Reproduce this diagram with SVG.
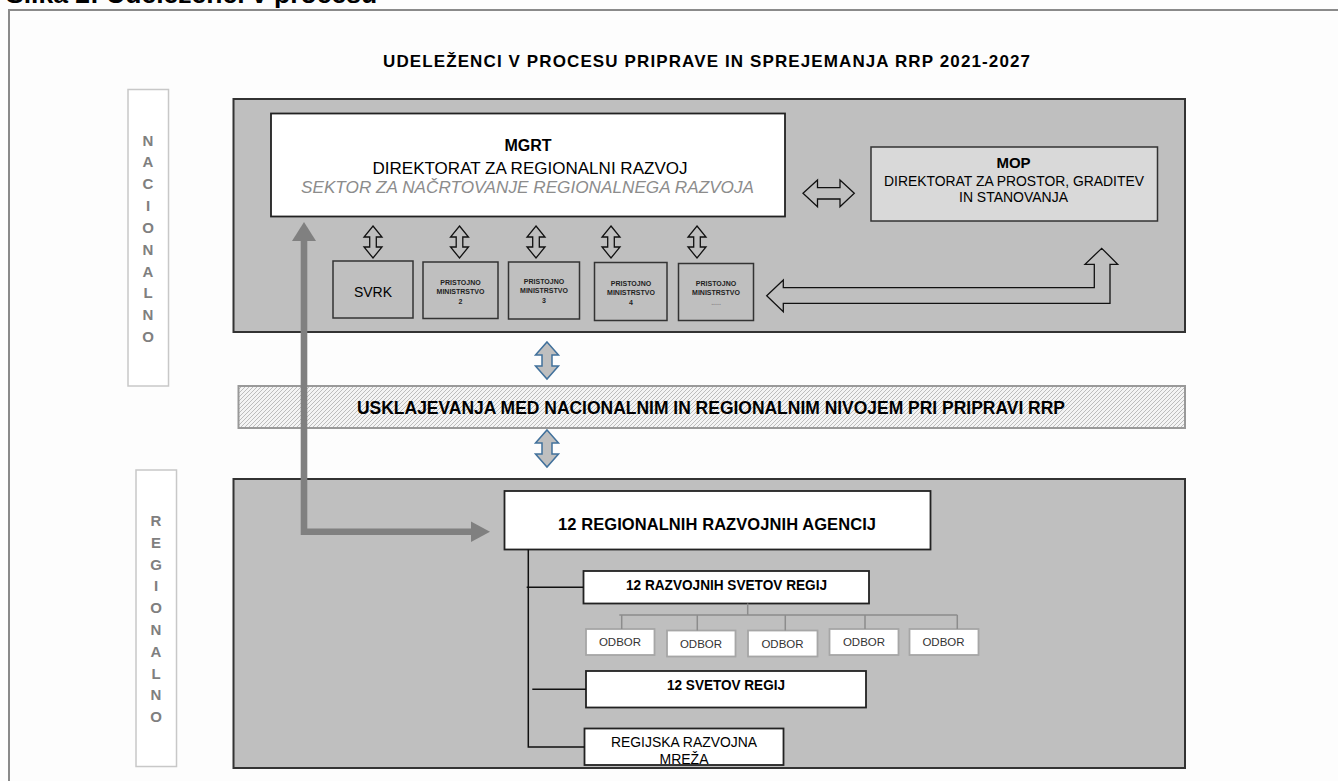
<svg xmlns="http://www.w3.org/2000/svg" width="1338" height="781" viewBox="0 0 1338 781">
<defs>
<style>
text{font-family:"Liberation Sans",Arial,sans-serif;fill:#000}
.b{font-weight:bold}
.c{text-anchor:middle}
.lbl{fill:#7f7f7f;font-weight:bold;font-size:15px;text-anchor:middle}
.lblbox{fill:#ffffff;stroke:#c8c8c8;stroke-width:1.5}
.panel{fill:#bfbfbf;stroke:#333;stroke-width:2}
.wbox{fill:#fff;stroke:#222;stroke-width:1.8}
.gbox{fill:#bfbfbf;stroke:#333;stroke-width:1.5}
.obox{fill:#fff;stroke:#a6a6a6;stroke-width:1.8}
.hol{fill:#bfbfbf;stroke:#111;stroke-width:1.3;stroke-linejoin:miter}
.blue{fill:#bfbfbf;stroke:#41719c;stroke-width:1.5}
.tree{stroke:#111;stroke-width:1.5;fill:none}
.otree{stroke:#8c8c8c;stroke-width:1.5;fill:none}
.small{font-size:7px;font-weight:bold;text-anchor:middle;fill:#222}
</style>
<pattern id="hatch" width="4" height="4" patternUnits="userSpaceOnUse">
<rect width="4" height="4" fill="#f4f4f4"/>
<path d="M-1,5 L5,-1 M-1,1 L1,-1 M3,5 L5,3" stroke="#bdbdbd" stroke-width="1"/>
</pattern>
<path id="vdbl" d="M0,-16 L9,-5 L3.3,-5 L3.3,5 L9,5 L0,16 L-9,5 L-3.3,5 L-3.3,-5 L-9,-5 Z"/>
</defs>

<rect x="0" y="0" width="1338" height="781" fill="#fdfdfd"/>
<rect x="9" y="10" width="1340" height="790" fill="none" stroke="#8a8a8a" stroke-width="2"/>
<text x="6" y="3.3" class="b" font-size="26.5">Slika 2: Udeleženci v procesu</text>

<text x="706.5" y="66.5" class="b c" font-size="17" textLength="647" lengthAdjust="spacing">UDELEŽENCI V PROCESU PRIPRAVE IN SPREJEMANJA RRP 2021-2027</text>

<g id="label-nacionalno">
<rect class="lblbox" x="128" y="89.5" width="40.5" height="296.5"/>
<text class="lbl"><tspan x="148" y="145.5">N</tspan><tspan x="148" y="167.3">A</tspan><tspan x="148" y="189.2">C</tspan><tspan x="148" y="211">I</tspan><tspan x="148" y="232.9">O</tspan><tspan x="148" y="254.7">N</tspan><tspan x="148" y="276.6">A</tspan><tspan x="148" y="298.4">L</tspan><tspan x="148" y="320.3">N</tspan><tspan x="148" y="342.1">O</tspan></text>
</g>

<g id="label-regionalno">
<rect class="lblbox" x="136" y="470" width="40.5" height="296.5"/>
<text class="lbl"><tspan x="156" y="526">R</tspan><tspan x="156" y="547.8">E</tspan><tspan x="156" y="569.6">G</tspan><tspan x="156" y="591.4">I</tspan><tspan x="156" y="613.2">O</tspan><tspan x="156" y="635">N</tspan><tspan x="156" y="656.8">A</tspan><tspan x="156" y="678.6">L</tspan><tspan x="156" y="700.4">N</tspan><tspan x="156" y="722.2">O</tspan></text>
</g>

<g id="panel-nacionalno">
<rect class="panel" x="233.5" y="99" width="951.5" height="233"/>
</g>

<g id="panel-regionalno">
<rect class="panel" x="233.5" y="479" width="951.5" height="289"/>
</g>

<g id="mgrt">
<rect class="wbox" x="271" y="113.5" width="514" height="103"/>
<text x="528" y="151" class="b c" font-size="16">MGRT</text>
<text x="530" y="174" class="c" font-size="17" textLength="315" lengthAdjust="spacingAndGlyphs">DIREKTORAT ZA REGIONALNI RAZVOJ</text>
<text x="527.5" y="193" class="c" font-size="17" font-style="italic" style="fill:#8c8c8c" textLength="453" lengthAdjust="spacingAndGlyphs">SEKTOR ZA NAČRTOVANJE REGIONALNEGA RAZVOJA</text>
</g>

<g id="mop">
<rect x="871" y="147" width="286.5" height="74" fill="#d9d9d9" stroke="#333" stroke-width="1.5"/>
<text x="1013.5" y="167.5" class="b c" font-size="15">MOP</text>
<text x="1014" y="185.5" class="c" font-size="14" textLength="260" lengthAdjust="spacingAndGlyphs">DIREKTORAT ZA PROSTOR, GRADITEV</text>
<text x="1013.5" y="202" class="c" font-size="14" textLength="109" lengthAdjust="spacingAndGlyphs">IN STANOVANJA</text>
</g>

<g id="svrk">
<rect class="gbox" x="333" y="261" width="80" height="57"/>
<text x="373" y="296.5" class="c" font-size="14">SVRK</text>
</g>
<g id="pm2">
<rect class="gbox" x="423" y="262" width="75" height="56.5"/>
<text class="small"><tspan x="460.5" y="285">PRISTOJNO</tspan><tspan x="460.5" y="293.5">MINISTRSTVO</tspan><tspan x="460.5" y="304">2</tspan></text>
</g>
<g id="pm3">
<rect class="gbox" x="508.5" y="262" width="71" height="57"/>
<text class="small"><tspan x="544" y="284">PRISTOJNO</tspan><tspan x="544" y="292.5">MINISTRSTVO</tspan><tspan x="544" y="303">3</tspan></text>
</g>
<g id="pm4">
<rect class="gbox" x="594.5" y="262.5" width="72.5" height="58"/>
<text class="small"><tspan x="631" y="285.5">PRISTOJNO</tspan><tspan x="631" y="294.5">MINISTRSTVO</tspan><tspan x="631" y="305">4</tspan></text>
</g>
<g id="pm5">
<rect class="gbox" x="678.5" y="263.5" width="75" height="57"/>
<text class="small"><tspan x="716" y="285.5">PRISTOJNO</tspan><tspan x="716" y="294.5">MINISTRSTVO</tspan><tspan x="716" y="305" style="fill:#8c8c8c">.....</tspan></text>
</g>

<g id="usklajevanja">
<rect x="238.5" y="386" width="946.5" height="42" fill="url(#hatch)" stroke="#999" stroke-width="2"/>
<text x="711" y="413.5" class="b c" font-size="18" textLength="708" lengthAdjust="spacingAndGlyphs">USKLAJEVANJA MED NACIONALNIM IN REGIONALNIM NIVOJEM PRI PRIPRAVI RRP</text>
</g>

<g id="rra">
<rect class="wbox" x="504.5" y="491" width="426" height="58.5"/>
<text x="717" y="530" class="b c" font-size="16.5" textLength="318" lengthAdjust="spacing">12 REGIONALNIH RAZVOJNIH AGENCIJ</text>
</g>
<g id="rsr">
<rect class="wbox" x="583.5" y="571" width="285.5" height="32.5"/>
<text x="726.5" y="589.5" class="b c" font-size="14" textLength="201" lengthAdjust="spacingAndGlyphs">12 RAZVOJNIH SVETOV REGIJ</text>
</g>
<g id="odbor1"><rect class="obox" x="586" y="629" width="68.5" height="26"/><text x="620" y="645.5" class="c" font-size="11.5" style="fill:#333">ODBOR</text></g>
<g id="odbor2"><rect class="obox" x="667" y="630.5" width="68.5" height="26"/><text x="701" y="647.5" class="c" font-size="11.5" style="fill:#333">ODBOR</text></g>
<g id="odbor3"><rect class="obox" x="748" y="630.5" width="69.5" height="26"/><text x="782.5" y="647.5" class="c" font-size="11.5" style="fill:#333">ODBOR</text></g>
<g id="odbor4"><rect class="obox" x="829.5" y="629" width="69" height="26"/><text x="864" y="645.5" class="c" font-size="11.5" style="fill:#333">ODBOR</text></g>
<g id="odbor5"><rect class="obox" x="909.5" y="629" width="69" height="26"/><text x="943.5" y="645.5" class="c" font-size="11.5" style="fill:#333">ODBOR</text></g>
<g id="svetov">
<rect class="wbox" x="586" y="671" width="280" height="36.5"/>
<text x="726" y="689.5" class="b c" font-size="14" textLength="118" lengthAdjust="spacingAndGlyphs">12 SVETOV REGIJ</text>
</g>
<g id="mreza">
<rect class="wbox" x="584.5" y="728.5" width="199" height="36.5"/>
<text x="684" y="746.5" class="c" font-size="14" textLength="146" lengthAdjust="spacingAndGlyphs">REGIJSKA RAZVOJNA</text>
<text x="684" y="763.5" class="c" font-size="14">MREŽA</text>
</g>

<g id="connectors">
<use href="#vdbl" class="hol" x="373" y="242"/>
<use href="#vdbl" class="hol" x="459.5" y="242"/>
<use href="#vdbl" class="hol" x="536" y="242"/>
<use href="#vdbl" class="hol" x="611" y="242"/>
<use href="#vdbl" class="hol" x="697" y="242"/>
<path class="hol" d="M803,193.3 L817.5,180 L817.5,187.6 L840,187.6 L840,180 L854.3,193.3 L840,206.7 L840,199 L817.5,199 L817.5,206.7 Z"/>
<path class="hol" d="M766.7,295.7 L783.3,280 L783.3,287.7 L1094.3,287.7 L1094.3,264.3 L1085,264.3 L1101.7,248.3 L1117.7,264.3 L1110,264.3 L1110,303.3 L783.3,303.3 L783.3,311.7 Z"/>
<path class="blue" d="M547,342 L558.5,355 L552,355 L552,366 L558.5,366 L547,379 L535.5,366 L542,366 L542,355 L535.5,355 Z"/>
<path class="blue" d="M547,430 L558.5,443 L552,443 L552,454 L558.5,454 L547,467 L535.5,454 L542,454 L542,443 L535.5,443 Z"/>
<path d="M304,240 L304,531.7 L472,531.7" fill="none" stroke="#808080" stroke-width="6.6" stroke-linejoin="miter"/>
<polygon points="304,222 316,241 292,241" fill="#808080"/>
<polygon points="490,531.7 471,521.5 471,542" fill="#808080"/>
<path class="tree" d="M528.3,549.5 L528.3,747 L584.5,747" stroke-width="2.2"/>
<path class="tree" d="M526.7,587.3 L583.5,587.3"/>
<path class="tree" d="M532.3,689.3 L586,689.3"/>
<path class="otree" d="M747.7,603.5 L747.7,615 M619.3,615 L957.3,615 M621.7,615 L621.7,629 M697.3,615 L697.3,630.5 M785.3,615 L785.3,630.5 M865,615 L865,629 M957.3,615 L957.3,629"/>
</g>
</svg>
